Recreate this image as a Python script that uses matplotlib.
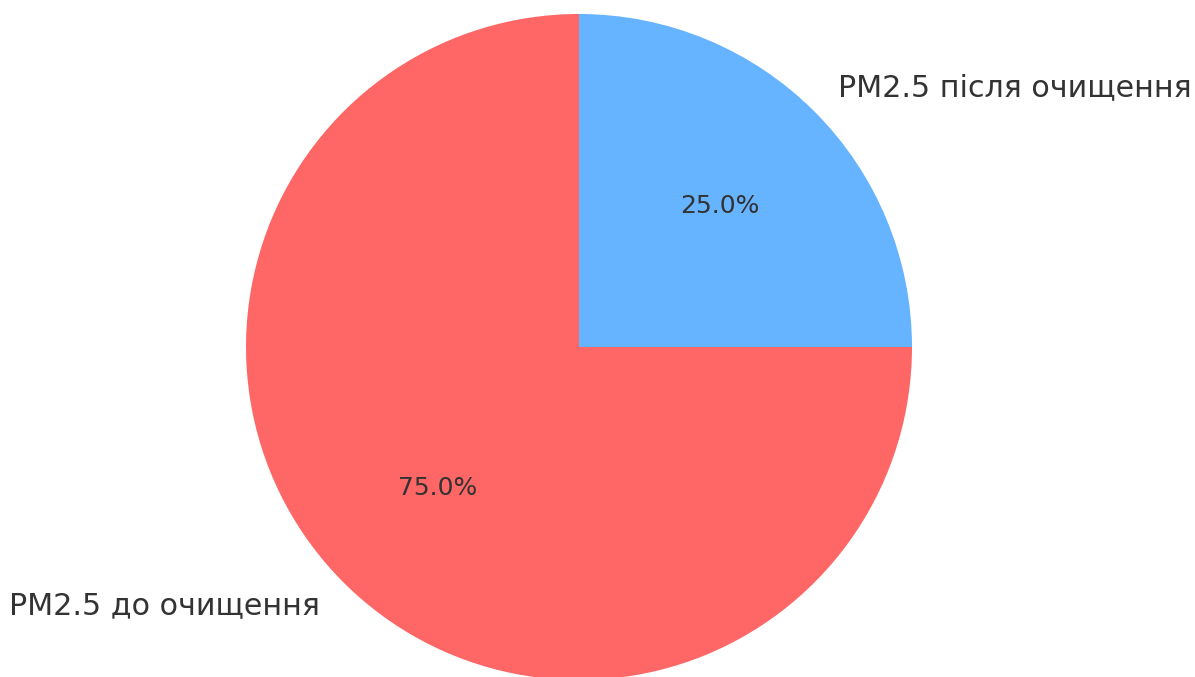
import matplotlib
matplotlib.use("Agg")
import matplotlib.pyplot as plt

labels = ["PM2.5 до очищення", "PM2.5 після очищення"]
shares = [75, 25]
colors = ["#ff6666", "#66b3ff"]

fig = plt.figure(figsize=(11.95, 6.77), dpi=100)
ax = fig.add_axes([0, 0, 1, 1])

wedges, texts, autotexts = ax.pie(
    shares,
    labels=labels,
    colors=colors,
    autopct="%1.1f%%",
    startangle=90,
    textprops={"color": "#333333"},
)
for t in texts:
    t.set_fontsize(21.7)
for t in autotexts:
    t.set_fontsize(18)

ax.set_xlim(-579 / 333, (1195 - 579) / 333)
ax.set_ylim(-330 / 333, (677 - 330) / 333)
ax.set_aspect("auto")
ax.axis("off")

fig.savefig("out.png", dpi=100)
